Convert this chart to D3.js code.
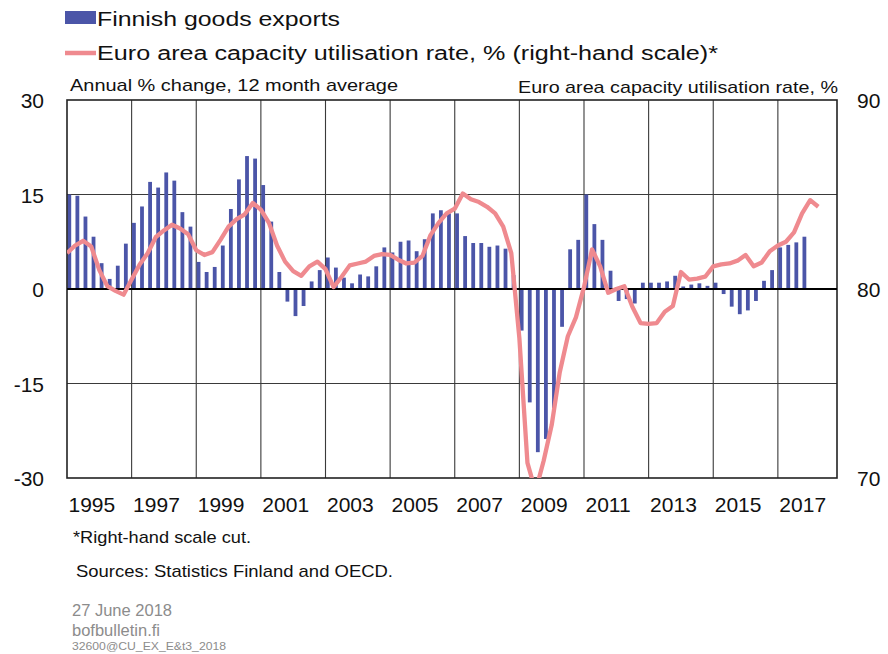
<!DOCTYPE html>
<html>
<head>
<meta charset="utf-8">
<title>Finnish goods exports and euro area capacity utilisation</title>
<script src="https://d3js.org/d3.v7.min.js"></script>
<style>
  body { margin: 0; background: #fff; }
  svg { display: block; font-family: "Liberation Sans", Arial, sans-serif; }
</style>
</head>
<body>
<svg id="chart"></svg>
<script>
// data, quarterly from 1995Q1
const firstYear = 1995;
const yearLabels = ["1995", "1997", "1999", "2001", "2003", "2005", "2007", "2009", "2011", "2013", "2015", "2017"];
const leftTicks = [-30, -15, 0, 15, 30];
const rightTicks = [70, 80, 90];

// Finnish goods exports, annual % change, 12 month average
const exportsGrowth = [
  15.0, 14.8, 11.5, 8.3, 4.1, 1.6, 3.7, 7.2,
  10.5, 13.1, 17.0, 16.1, 18.5, 17.2, 12.2, 9.9,
  4.3, 2.7, 3.5, 6.9, 12.7, 17.4, 21.1, 20.7,
  16.5, 10.7, 2.7, -2.0, -4.3, -2.7, 1.2, 3.0,
  5.0, 3.4, 1.8, 0.9, 2.3, 2.0, 3.6, 6.6,
  5.8, 7.5, 7.7, 6.0, 7.9, 12.0, 12.5, 12.0,
  12.0, 8.4, 7.3, 7.3, 6.7, 6.9, 6.4, 2.2,
  -6.6, -18.0, -25.9, -23.8, -18.9, -6.0, 6.3, 7.8,
  15.0, 10.3, 7.8, 2.9, -1.9, -1.6, -2.3, 1.0,
  1.0, 1.0, 1.2, 2.1, 0.4, 0.7, 0.9, 0.5,
  1.0, -0.8, -2.8, -4.0, -3.4, -1.9, 1.3, 3.0,
  6.6, 7.0, 7.4, 8.3
];

// Euro area capacity utilisation rate, %
const capacityUtil = [
  81.9, 82.3, 82.55, 82.25, 81.0, 80.15, 79.9, 79.7,
  80.5, 81.3, 81.9, 82.75, 83.1, 83.4, 83.2, 82.9,
  82.05, 81.8, 81.95, 82.6, 83.3, 83.7, 83.95, 84.55,
  84.2, 83.5, 82.3, 81.45, 80.95, 80.7, 81.2, 81.45,
  81.05, 80.1, 80.65, 81.25, 81.35, 81.45, 81.75, 81.85,
  81.8, 81.55, 81.35, 81.4, 81.75, 82.85, 83.5, 84.0,
  84.25, 85.05, 84.75, 84.6, 84.35, 84.0, 83.3, 81.9,
  77.4, 70.8, 69.3, 70.9, 72.8, 75.6, 77.5, 78.5,
  80.1, 82.1, 81.2, 79.8, 80.0, 80.15, 79.05, 78.2,
  78.15, 78.2, 78.8, 79.1, 80.9, 80.5, 80.55, 80.65,
  81.2, 81.3, 81.35, 81.5, 81.8, 81.2, 81.4, 82.0,
  82.3, 82.5, 83.0, 84.0, 84.7, 84.35
];

const width = 888, height = 654;
const plotLeft = 67, plotRight = 837, plotTop = 100, plotBottom = 478;
const barColor = "#4b55a8";
const lineColor = "#ef8a8f";

const svg = d3.select("#chart").attr("width", width).attr("height", height);

const quarterTime = i => firstYear + i / 4;

const x = d3.scaleLinear([1995, 2018.83], [plotLeft, plotRight]);
const yL = d3.scaleLinear([-30, 30], [plotBottom, plotTop]);
const yR = d3.scaleLinear([70, 90], [plotBottom, plotTop]);

// grid lines
const grid = svg.append("g").attr("stroke", "#3a3a3a").attr("stroke-width", 1.1);
grid.selectAll("line.h")
  .data([-15, 15])
  .join("line")
  .attr("class", "h")
  .attr("x1", plotLeft).attr("x2", plotRight)
  .attr("y1", d => yL(d)).attr("y2", d => yL(d));
grid.selectAll("line.v")
  .data(yearLabels.slice(1).map(Number))
  .join("line")
  .attr("class", "v")
  .attr("x1", d => x(d)).attr("x2", d => x(d))
  .attr("y1", plotTop).attr("y2", plotBottom);

// bars
svg.append("g")
  .attr("fill", barColor)
  .selectAll("rect")
  .data(exportsGrowth)
  .join("rect")
  .attr("x", (d, i) => x(quarterTime(i)) + 0.4)
  .attr("width", 3.8)
  .attr("y", d => yL(Math.max(0, d)))
  .attr("height", d => Math.abs(yL(d) - yL(0)));

// frame and zero line
svg.append("rect")
  .attr("x", plotLeft).attr("y", plotTop)
  .attr("width", plotRight - plotLeft).attr("height", plotBottom - plotTop)
  .attr("fill", "none").attr("stroke", "#222").attr("stroke-width", 1.6);
svg.append("line")
  .attr("x1", plotLeft).attr("x2", plotRight)
  .attr("y1", yL(0)).attr("y2", yL(0))
  .attr("stroke", "#000").attr("stroke-width", 2);

// line, right-hand scale is cut at 70
svg.append("clipPath").attr("id", "plotClip")
  .append("rect")
  .attr("x", plotLeft).attr("y", plotTop)
  .attr("width", plotRight - plotLeft).attr("height", plotBottom - plotTop);

svg.append("path")
  .datum(capacityUtil)
  .attr("clip-path", "url(#plotClip)")
  .attr("fill", "none")
  .attr("stroke", lineColor)
  .attr("stroke-width", 4.3)
  .attr("stroke-linejoin", "round")
  .attr("d", d3.line().x((d, i) => x(quarterTime(i))).y(d => yR(d)));

// axes
const axisFont = 21;
const gl = svg.append("g")
  .attr("transform", `translate(${plotLeft - 23},0)`)
  .call(d3.axisLeft(yL).tickValues(leftTicks).tickFormat(d => String(d)).tickSize(0).tickPadding(0));
const gr = svg.append("g")
  .attr("transform", `translate(${plotRight + 20},0)`)
  .call(d3.axisRight(yR).tickValues(rightTicks).tickFormat(d => String(d)).tickSize(0).tickPadding(0));
const gx = svg.append("g")
  .attr("transform", `translate(0,${plotBottom + 34})`)
  .call(d3.axisBottom(x).tickValues(yearLabels.map(Number)).tickFormat(d3.format("d")).tickSize(0).tickPadding(0));

[gl, gr, gx].forEach(g => {
  g.select(".domain").remove();
  g.selectAll("text")
    .attr("fill", "#111")
    .style("font-family", "'Liberation Sans', Arial, sans-serif")
    .style("font-size", axisFont + "px");
});
gl.selectAll("text").attr("dy", "0.36em");
gr.selectAll("text").attr("dy", "0.36em");
gx.selectAll("text").attr("text-anchor", "start").attr("dx", 1).attr("dy", 0);

// texts
function label(txt, x0, y0, size, len, color) {
  svg.append("text")
    .attr("x", x0).attr("y", y0)
    .attr("font-size", size)
    .attr("fill", color || "#111")
    .attr("textLength", len)
    .attr("lengthAdjust", "spacingAndGlyphs")
    .text(txt);
}

// legend
svg.append("rect").attr("x", 65).attr("y", 11).attr("width", 31).attr("height", 13).attr("fill", barColor);
svg.append("line").attr("x1", 65).attr("x2", 96).attr("y1", 53).attr("y2", 53)
  .attr("stroke", lineColor).attr("stroke-width", 4.5);
label("Finnish goods exports", 97, 26, 20, 243);
label("Euro area capacity utilisation rate, % (right-hand scale)*", 97, 60, 20, 621);

label("Annual % change, 12 month average", 70, 91, 17, 328);
label("Euro area capacity utilisation rate, %", 518, 93, 17, 320);

label("*Right-hand scale cut.", 73, 543, 17, 178);
label("Sources: Statistics Finland and OECD.", 76, 577, 17, 317);
label("27 June 2018", 72, 616, 16, 100, "#8c8c8c");
label("bofbulletin.fi", 72, 636, 16, 88, "#8c8c8c");
label("32600@CU_EX_E&t3_2018", 72, 650, 11, 154, "#8c8c8c");
</script>
</body>
</html>
